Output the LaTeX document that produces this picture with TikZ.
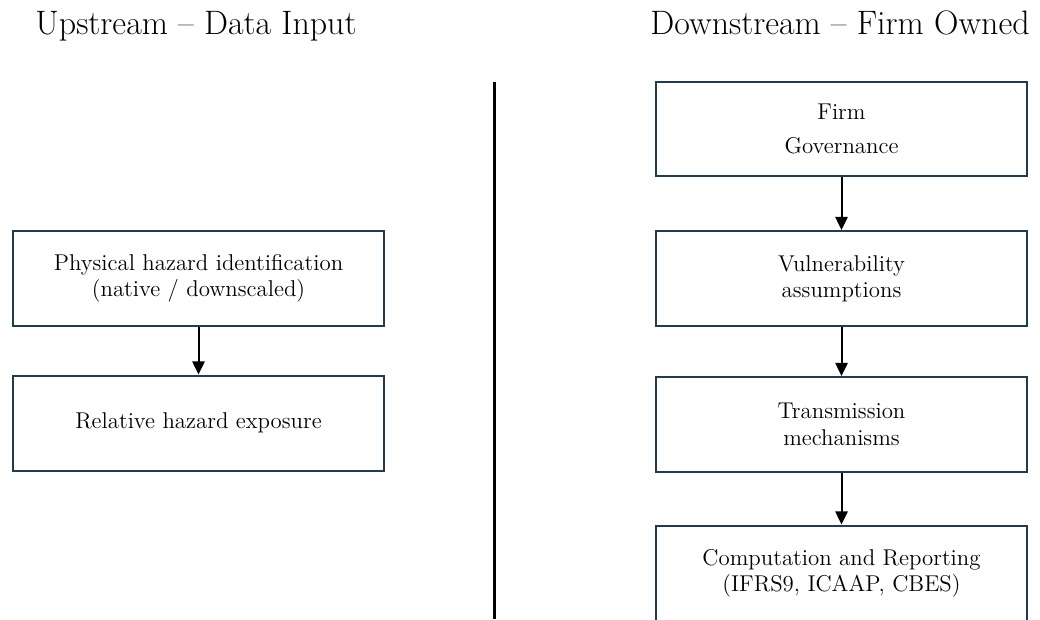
\documentclass[tikz,border=0pt]{standalone}
\usepackage{tikz}
\usetikzlibrary{arrows.meta}
\usetikzlibrary{positioning}
\definecolor{boxline}{HTML}{243B4A}

\begin{document}
\begin{tikzpicture}[x=0.02cm, y=-0.02cm,
        stage/.style={draw=boxline, line width=0.04cm, minimum width=7.42cm, minimum height=1.9cm,
            align=center, inner sep=0pt, font=\fontsize{13}{15}\selectfont},
        heading/.style={anchor=base, font=\fontsize{19.3}{23}\selectfont},
        flow/.style={line width=0.04cm, -{Triangle[length=7.5pt,width=7pt]}}]
        \useasboundingbox (0,0) rectangle (1040,619);
        \clip (0,0) rectangle (1040,619);
        % headings
        \node[heading] (up) at (196,34) {Upstream -- Data Input};
        \node[heading] (down) at (840,34) {Downstream -- Firm Owned};
        % divider
        \coordinate (divtop) at (494,82);
        \coordinate (divbot) at (494,619);
        \draw[line width=0.06cm] (divtop) -- (divbot);
        % upstream
        \node[stage] (phys) at (198.5,278.5) {Physical hazard identification\\(native / downscaled)};
        \node[stage] (expo) at (198.5,423) {Relative hazard exposure};
        \draw[flow] (phys) -- (expo);
        % downstream
        \node[stage] (gov) at (841.5,129) {Firm\\[4pt]Governance};
        \node[stage] (vuln) at (841.5,278.5) {Vulnerability\\assumptions};
        \node[stage] (trans) at (841.5,424.5) {Transmission\\mechanisms};
        \node[stage] (comp) at (841.5,573) {Computation and Reporting\\(IFRS9, ICAAP, CBES)};
        \draw[flow] (gov) -- (vuln);
        \draw[flow] (vuln) -- (trans);
        \draw[flow] (trans) -- (comp);
    \end{tikzpicture}
\end{document}
